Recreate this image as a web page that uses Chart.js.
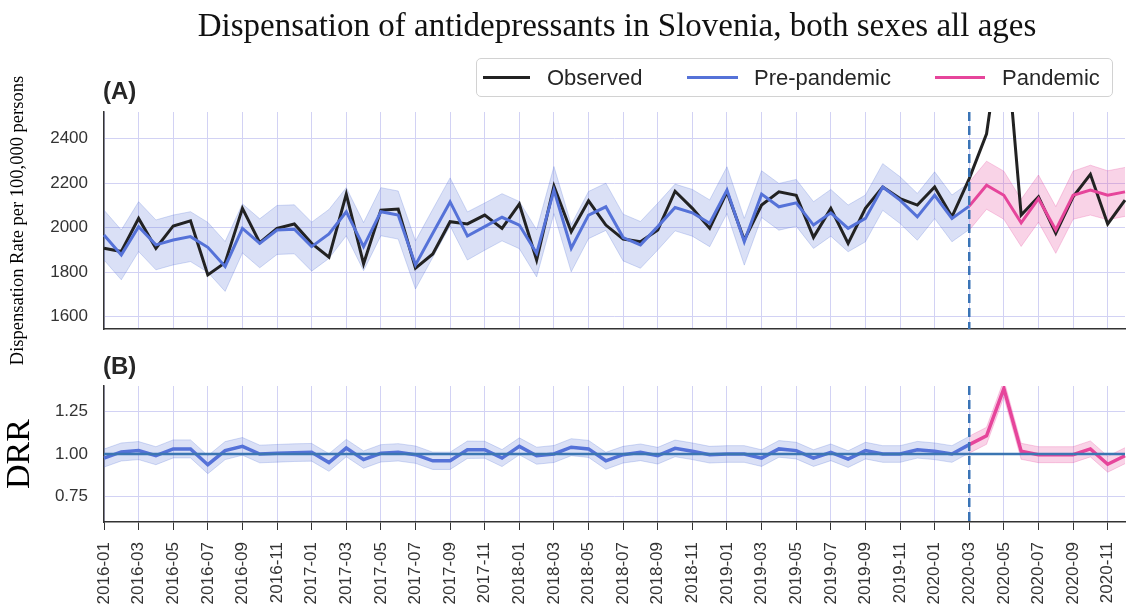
<!DOCTYPE html>
<html>
<head>
<meta charset="utf-8">
<script src="https://cdn.jsdelivr.net/npm/chart.js@4.4.1/dist/chart.umd.min.js"></script>
<style>
  body { margin: 0; background: #fff; width: 1129px; height: 607px; overflow: hidden; position: relative; }
  canvas { position: absolute; left: 0; top: 0; }
  #title { position: absolute; left: 617px; top: 6px; transform: translateX(-50%); white-space: nowrap;
           font: 33px/38px "Liberation Serif", "Times New Roman", serif; color: #111; }
  .panel { position: absolute; left: 103px; font: bold 24px/24px "Liberation Sans", Arial, sans-serif; color: #262626; }
  #legend { position: absolute; left: 476px; top: 58px; width: 635px; height: 37px; border: 1px solid #d2d2d2;
            border-radius: 5px; font: 22px/37px "Liberation Sans", Arial, sans-serif; color: #262626; background: #fff; }
  #legend .ln { position: absolute; top: 17px; height: 3px; }
  #legend .tx { position: absolute; top: 0; }
</style>
</head>
<body>
<canvas id="chartA" width="1129" height="607"></canvas>
<canvas id="chartB" width="1129" height="607"></canvas>
<div id="title">Dispensation of antidepressants in Slovenia, both sexes all ages</div>
<div class="panel" style="top:79px">(A)</div>
<div class="panel" style="top:354px">(B)</div>
<div id="legend">
  <span class="ln" style="left:6px;width:47px;background:#222"></span><span class="tx" style="left:70px">Observed</span>
  <span class="ln" style="left:210px;width:51px;background:#5572d8"></span><span class="tx" style="left:277px">Pre-pandemic</span>
  <span class="ln" style="left:458px;width:50px;background:#e6459b"></span><span class="tx" style="left:525px">Pandemic</span>
</div>
<script>
const months = [
  '2016-01','2016-02','2016-03','2016-04','2016-05','2016-06','2016-07','2016-08','2016-09','2016-10','2016-11','2016-12',
  '2017-01','2017-02','2017-03','2017-04','2017-05','2017-06','2017-07','2017-08','2017-09','2017-10','2017-11','2017-12',
  '2018-01','2018-02','2018-03','2018-04','2018-05','2018-06','2018-07','2018-08','2018-09','2018-10','2018-11','2018-12',
  '2019-01','2019-02','2019-03','2019-04','2019-05','2019-06','2019-07','2019-08','2019-09','2019-10','2019-11','2019-12',
  '2020-01','2020-02','2020-03','2020-04','2020-05','2020-06','2020-07','2020-08','2020-09','2020-10','2020-11','2020-12'
];
const pandemicStart = '2020-03';

// (A) dispensation rate per 100,000
const observed = [
  1908, 1893, 2042, 1908, 2008, 2031, 1788, 1843, 2087, 1933,
  1997, 2017, 1930, 1868, 2151, 1838, 2079, 2084, 1818, 1882,
  2027, 2017, 2057, 1997, 2106, 1855, 2187, 1982, 2121, 2012,
  1949, 1937, 1990, 2164, 2087, 1997, 2161, 1945, 2102, 2161,
  2146, 1957, 2087, 1930, 2087, 2183, 2131, 2102, 2183, 2049,
  2221, 2422, 2970, 2057, 2139, 1975, 2139, 2240, 2017, 2124
];
const prePandemic = [
  1967, 1878, 2005, 1923, 1945, 1960, 1912, 1826, 1997, 1930,
  1990, 1993, 1915, 1972, 2072, 1915, 2072, 2057, 1833, 1975,
  2116, 1963, 2005, 2047, 2012, 1885, 2169, 1908, 2057, 2094,
  1956, 1923, 2005, 2091, 2067, 2020, 2169, 1937, 2151, 2094,
  2112, 2012, 2067, 1997, 2042, 2183, 2124, 2049, 2146, 2042,
  2097
];
const prePandemicBand = [
  112, 112, 112, 112, 112, 112, 112, 112, 110, 110,
  110, 110, 110, 110, 108, 108, 108, 108, 108, 108,
  108, 108, 106, 106, 106, 106, 106, 106, 106, 106,
  105, 105, 105, 105, 105, 105, 105, 105, 105, 105,
  105, 105, 105, 105, 105, 105, 105, 105, 105, 105,
  105
];
const pandemic = [2097, 2191, 2146, 2022, 2131, 1990, 2146, 2169, 2146, 2161];
const pandemicBand = [108, 108, 108, 106, 106, 105, 108, 112, 110, 110];

// (B) dispensation rate ratio
const drrPre = [
  0.976, 1.012, 1.020, 0.990, 1.030, 1.030, 0.937, 1.020, 1.045, 1.000,
  1.004, 1.008, 1.010, 0.950, 1.035, 0.967, 1.004, 1.010, 0.996, 0.960,
  0.960, 1.025, 1.025, 0.976, 1.045, 0.990, 1.000, 1.040, 1.030, 0.960,
  0.996, 1.010, 0.990, 1.033, 1.016, 0.996, 1.000, 1.000, 0.976, 1.030,
  1.020, 0.976, 1.010, 0.970, 1.020, 1.000, 1.000, 1.025, 1.016, 1.000,
  1.055
];
const drrPreBand = [
  0.053, 0.053, 0.053, 0.053, 0.053, 0.053, 0.053, 0.053, 0.052, 0.052,
  0.052, 0.052, 0.052, 0.052, 0.051, 0.051, 0.051, 0.051, 0.051, 0.051,
  0.051, 0.051, 0.050, 0.050, 0.050, 0.050, 0.050, 0.050, 0.050, 0.050,
  0.049, 0.049, 0.049, 0.049, 0.049, 0.049, 0.049, 0.049, 0.049, 0.049,
  0.049, 0.049, 0.049, 0.049, 0.049, 0.049, 0.049, 0.049, 0.049, 0.049,
  0.049
];
const drrPandemic = [1.055, 1.107, 1.385, 1.016, 0.996, 0.996, 0.996, 1.030, 0.940, 0.990];
const drrPandemicBand = [0.05, 0.05, 0.05, 0.047, 0.047, 0.047, 0.047, 0.047, 0.047, 0.047];

const ticksA = [1600, 1800, 2000, 2200, 2400];
const ticksB = [0.75, 1.00, 1.25];

const sans = '"Liberation Sans", Arial, sans-serif';
const serif = '"Liberation Serif", "Times New Roman", serif';
const gridColor = '#d2d2f4';
const blue = '#5572d8';
const pink = '#e6459b';
const blueFill = 'rgba(85,114,216,0.22)';
const pinkFill = 'rgba(230,69,155,0.24)';
const startIdx = months.indexOf(pandemicStart);

const padPre = arr => months.map((m, i) => i < arr.length ? arr[i] : null);
const padPost = arr => months.map((m, i) => i >= startIdx ? arr[i - startIdx] : null);
const shift = (arr, band, sign) => arr.map((v, i) => v + sign * band[i]);

const marker = {
  id: 'marker',
  afterDatasetsDraw(chart, args, opts) {
    const { ctx, chartArea: a, scales: { x, y } } = chart;
    ctx.save();
    if (opts.refY !== undefined) {
      const py = y.getPixelForValue(opts.refY);
      ctx.strokeStyle = '#3b76b2';
      ctx.lineWidth = 2.5;
      ctx.beginPath(); ctx.moveTo(a.left, py); ctx.lineTo(a.right, py); ctx.stroke();
    }
    const px = x.getPixelForValue(startIdx);
    ctx.setLineDash([9, 5]);
    ctx.strokeStyle = '#3a74b6';
    ctx.lineWidth = 2.5;
    ctx.beginPath(); ctx.moveTo(px, a.top); ctx.lineTo(px, a.bottom); ctx.stroke();
    ctx.restore();
  }
};

function xScale(showLabels) {
  return {
    type: 'category',
    offset: false,
    grid: {
      color: c => c.index % 2 === 0 ? gridColor : 'rgba(0,0,0,0)',
      tickColor: c => c.index % 2 === 0 ? '#333' : 'rgba(0,0,0,0)',
      drawTicks: showLabels,
      tickLength: 8,
      lineWidth: 1
    },
    border: { color: '#333', width: 1.5 },
    ticks: {
      display: showLabels,
      autoSkip: false,
      minRotation: 90,
      maxRotation: 90,
      padding: 12,
      color: '#333',
      font: { family: sans, size: 17 },
      callback: (v, i) => i % 2 === 0 ? months[i] : ''
    },
    afterFit: s => { s.height = showLabels ? 85 : 278; s.paddingLeft = 0; s.paddingRight = 0; }
  };
}

function yScale(min, max, ticks, fmt, title) {
  return {
    min: min,
    max: max,
    grid: { color: gridColor, lineWidth: 1, drawTicks: false },
    border: { color: '#333', width: 1.5 },
    afterBuildTicks: s => { s.ticks = ticks.map(v => ({ value: v })); },
    ticks: { padding: 16, color: '#333', font: { family: sans, size: 17 }, callback: fmt },
    title: title,
    afterFit: s => { s.width = 104; }
  };
}

function band(lower, upper, color, edge) {
  return [
    { data: lower, borderColor: edge, borderWidth: 1, pointRadius: 0, fill: false, order: 3 },
    { data: upper, borderColor: edge, borderWidth: 1, pointRadius: 0, fill: '-1', backgroundColor: color, order: 3 }
  ];
}

const common = {
  responsive: false,
  animation: false,
  events: [],
  plugins: { legend: { display: false }, tooltip: { enabled: false } },
  elements: { line: { tension: 0 } }
};

new Chart(document.getElementById('chartA'), {
  type: 'line',
  data: {
    labels: months,
    datasets: [
      { data: observed, borderColor: '#222', borderWidth: 3, pointRadius: 0, fill: false, order: 1 },
      { data: padPre(prePandemic), borderColor: blue, borderWidth: 3, pointRadius: 0, fill: false, order: 0 },
      { data: padPost(pandemic), borderColor: pink, borderWidth: 3, pointRadius: 0, fill: false, order: 0 },
      ...band(padPre(shift(prePandemic, prePandemicBand, -1)), padPre(shift(prePandemic, prePandemicBand, 1)), blueFill, 'rgba(85,114,216,0.25)'),
      ...band(padPost(shift(pandemic, pandemicBand, -1)), padPost(shift(pandemic, pandemicBand, 1)), pinkFill, 'rgba(230,69,155,0.25)')
    ]
  },
  options: {
    ...common,
    layout: { padding: { top: 112, right: 4, left: 0, bottom: 0 } },
    scales: {
      x: xScale(false),
      y: yScale(1545, 2520, ticksA, v => String(v), {
        display: true,
        text: 'Dispensation Rate per 100,000 persons',
        color: '#000',
        font: { family: serif, size: 18.5 },
        padding: { top: 7, bottom: 0 }
      })
    }
  },
  plugins: [marker]
});

new Chart(document.getElementById('chartB'), {
  type: 'line',
  data: {
    labels: months,
    datasets: [
      { data: padPre(drrPre), borderColor: blue, borderWidth: 3.5, pointRadius: 0, fill: false, order: 0 },
      { data: padPost(drrPandemic), borderColor: pink, borderWidth: 3.5, pointRadius: 0, fill: false, order: 0 },
      ...band(padPre(shift(drrPre, drrPreBand, -1)), padPre(shift(drrPre, drrPreBand, 1)), blueFill, 'rgba(85,114,216,0.25)'),
      ...band(padPost(shift(drrPandemic, drrPandemicBand, -1)), padPost(shift(drrPandemic, drrPandemicBand, 1)), pinkFill, 'rgba(230,69,155,0.25)')
    ]
  },
  options: {
    ...common,
    layout: { padding: { top: 386, right: 4, left: 0, bottom: 0 } },
    scales: {
      x: xScale(true),
      y: yScale(0.6, 1.4, ticksB, v => v.toFixed(2), {
        display: true,
        text: 'DRR',
        color: '#000',
        font: { family: serif, size: 34 },
        padding: { top: 0, bottom: 0 }
      })
    },
    plugins: { ...common.plugins, marker: { refY: 1 } }
  },
  plugins: [marker]
});
</script>
</body>
</html>
